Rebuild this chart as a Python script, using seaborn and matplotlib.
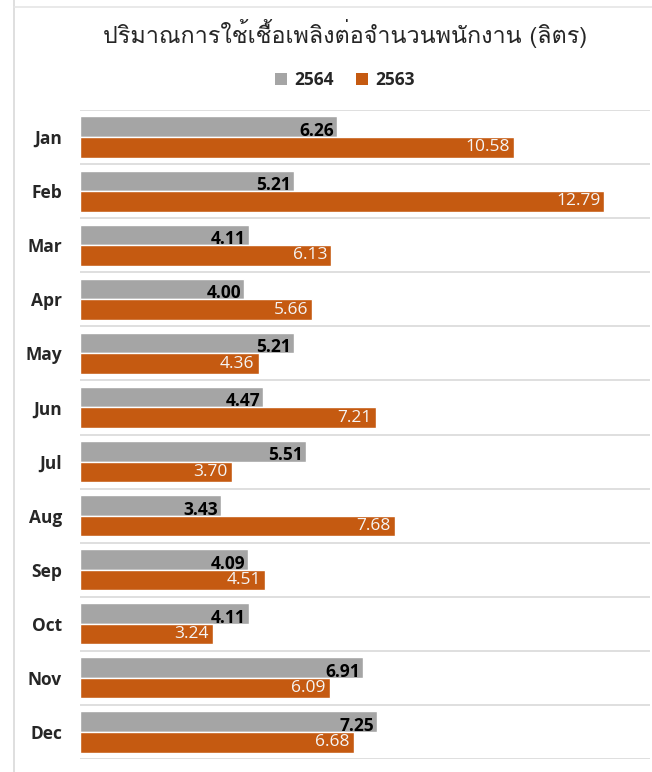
import matplotlib
matplotlib.use("Agg")
import matplotlib.pyplot as plt
import matplotlib.font_manager as fm
from matplotlib.patches import Patch
from matplotlib.lines import Line2D
import seaborn as sns
import pandas as pd

months = ["Jan", "Feb", "Mar", "Apr", "May", "Jun", "Jul", "Aug", "Sep", "Oct", "Nov", "Dec"]
values_2564 = [6.26, 5.21, 4.11, 4.00, 5.21, 4.47, 5.51, 3.43, 4.09, 4.11, 6.91, 7.25]
values_2563 = [10.58, 12.79, 6.13, 5.66, 4.36, 7.21, 3.70, 7.68, 4.51, 3.24, 6.09, 6.68]
series = ["2564", "2563"]
title = "ปริมาณการใช้เชื้อเพลิงต่อจำนวนพนักงาน (ลิตร)"

# find a font with Thai glyphs
thai_fonts = []
try:
    from fontTools.ttLib import TTFont
    seen = set()
    for f in fm.fontManager.ttflist:
        if f.name in seen:
            continue
        try:
            tt = TTFont(f.fname, fontNumber=0, lazy=True)
            cmap = tt.getBestCmap()
            if cmap and 0x0E1B in cmap:
                thai_fonts.append(f.name)
                seen.add(f.name)
        except Exception:
            pass
except Exception:
    thai_fonts = []
preferred = [n for n in ["Loma", "Garuda", "Tlwg Typo", "Anuphan"] if n in thai_fonts]
tf = preferred[:1] if preferred else thai_fonts[:1]

sns.set_theme(style="white")
base = "Open Sans"
plt.rcParams['font.family'] = [base, 'DejaVu Sans']

df = pd.DataFrame({
    "month": months * 2,
    "value": values_2564 + values_2563,
    "year": [series[0]] * 12 + [series[1]] * 12,
})

colors = {"2564": "#A5A5A5", "2563": "#C55A11"}

fig = plt.figure(figsize=(6.52, 7.72), dpi=100)
ax = fig.add_axes([80 / 652, 1 - 759 / 772, 570 / 652, (759 - 110) / 772])

sns.barplot(data=df, y="month", x="value", hue="year", hue_order=series,
            order=months, palette=colors, orient="h", width=0.76, dodge=True,
            saturation=1, ax=ax, legend=False, errorbar=None)

ax.set_xlim(0, 13.9)
ax.set_ylim(11.5, -0.5)
ax.set_xlabel("")
ax.set_ylabel("")
ax.set_xticks([])
ax.set_yticks(range(12))
ax.set_yticklabels(months, fontsize=12.5, fontweight="bold", color="#262626")
ax.tick_params(axis="y", length=0, pad=13)
for s in ax.spines.values():
    s.set_visible(False)
for b in [i - 0.5 for i in range(13)]:
    ax.axhline(b, color="#D9D9D9", lw=1.2, zorder=0)

c_gray, c_orange = ax.containers[0], ax.containers[1]
for t in ax.bar_label(c_gray, fmt="%.2f", padding=0, fontsize=12.5, fontweight="bold", color="black"):
    t.set_ha("right")
    t.xyann = (-2, -3)
for t in ax.bar_label(c_orange, fmt="%.2f", padding=0, fontsize=12.5, color="#F5F5F5"):
    t.set_ha("right")
    t.xyann = (-3, 0)

fig.text(345 / 652, 1 - 33 / 772, title, ha="center", va="center", fontsize=16.8,
         color="#262626", family=tf + [base, "DejaVu Sans"])

handles = [Patch(facecolor=colors[s], edgecolor="none") for s in series]
leg = fig.legend(handles, series, loc="center", bbox_to_anchor=(345 / 652, 1 - 80 / 772),
                 ncol=2, frameon=False, handlelength=0.7, handleheight=0.7,
                 handletextpad=0.4, columnspacing=1.3,
                 prop={"weight": "bold", "size": 12.5})
for t in leg.get_texts():
    t.set_color("#262626")

fig.add_artist(Line2D([14 / 652, 14 / 652], [0, 1], color="#D9D9D9", lw=1.2))
fig.add_artist(Line2D([14 / 652, 1], [1 - 7 / 772, 1 - 7 / 772], color="#E5E5E5", lw=1.2))

fig.savefig("out.png", dpi=100)
